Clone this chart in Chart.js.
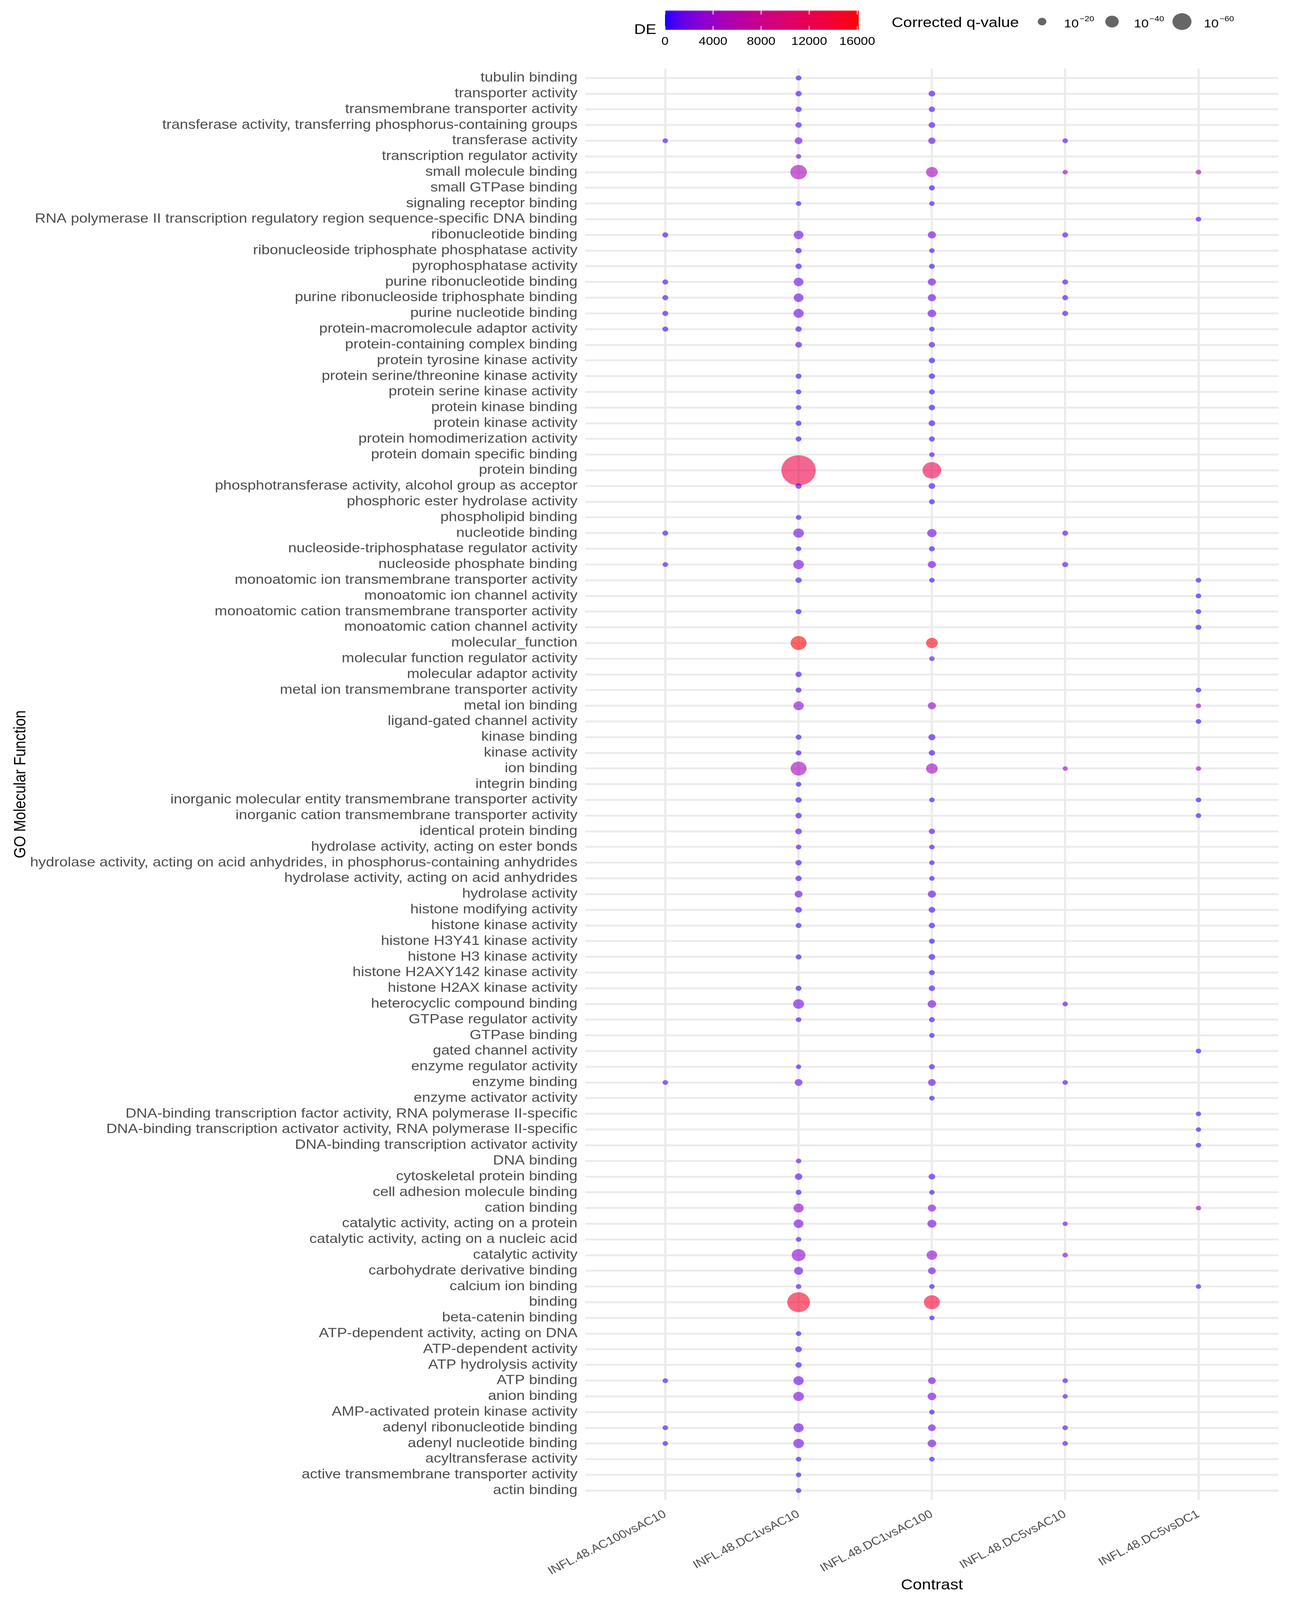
<!DOCTYPE html>
<html>
<head>
<meta charset="utf-8">
<script src="https://cdn.jsdelivr.net/npm/chart.js@4.4.1/dist/chart.umd.min.js"></script>
<style>
html,body{margin:0;padding:0;background:#ffffff;overflow:hidden;}
#wrap{position:absolute;left:0;top:0;width:3322px;height:4670px;transform-origin:0 0;}
canvas{display:block;}
</style>
</head>
<body>
<div id="wrap"><canvas id="c" width="3322" height="4670"></canvas></div>
<script>
const _ = null;

// GO terms, listed top (first) to bottom (last) as they appear on the y axis
const goTerms = [
  'tubulin binding','transporter activity','transmembrane transporter activity',
  'transferase activity, transferring phosphorus-containing groups','transferase activity',
  'transcription regulator activity','small molecule binding','small GTPase binding',
  'signaling receptor binding','RNA polymerase II transcription regulatory region sequence-specific DNA binding',
  'ribonucleotide binding','ribonucleoside triphosphate phosphatase activity','pyrophosphatase activity',
  'purine ribonucleotide binding','purine ribonucleoside triphosphate binding','purine nucleotide binding',
  'protein-macromolecule adaptor activity','protein-containing complex binding','protein tyrosine kinase activity',
  'protein serine/threonine kinase activity',
  'protein serine kinase activity','protein kinase binding','protein kinase activity',
  'protein homodimerization activity','protein domain specific binding','protein binding',
  'phosphotransferase activity, alcohol group as acceptor','phosphoric ester hydrolase activity',
  'phospholipid binding','nucleotide binding',
  'nucleoside-triphosphatase regulator activity','nucleoside phosphate binding',
  'monoatomic ion transmembrane transporter activity','monoatomic ion channel activity',
  'monoatomic cation transmembrane transporter activity','monoatomic cation channel activity',
  'molecular_function','molecular function regulator activity','molecular adaptor activity',
  'metal ion transmembrane transporter activity',
  'metal ion binding','ligand-gated channel activity','kinase binding','kinase activity','ion binding',
  'integrin binding','inorganic molecular entity transmembrane transporter activity',
  'inorganic cation transmembrane transporter activity','identical protein binding',
  'hydrolase activity, acting on ester bonds',
  'hydrolase activity, acting on acid anhydrides, in phosphorus-containing anhydrides',
  'hydrolase activity, acting on acid anhydrides','hydrolase activity','histone modifying activity',
  'histone kinase activity','histone H3Y41 kinase activity','histone H3 kinase activity',
  'histone H2AXY142 kinase activity','histone H2AX kinase activity','heterocyclic compound binding',
  'GTPase regulator activity','GTPase binding','gated channel activity','enzyme regulator activity',
  'enzyme binding','enzyme activator activity',
  'DNA-binding transcription factor activity, RNA polymerase II-specific',
  'DNA-binding transcription activator activity, RNA polymerase II-specific',
  'DNA-binding transcription activator activity','DNA binding',
  'cytoskeletal protein binding','cell adhesion molecule binding','cation binding',
  'catalytic activity, acting on a protein','catalytic activity, acting on a nucleic acid',
  'catalytic activity','carbohydrate derivative binding','calcium ion binding','binding',
  'beta-catenin binding',
  'ATP-dependent activity, acting on DNA','ATP-dependent activity','ATP hydrolysis activity',
  'ATP binding','anion binding','AMP-activated protein kinase activity',
  'adenyl ribonucleotide binding','adenyl nucleotide binding','acyltransferase activity',
  'active transmembrane transporter activity',
  'actin binding'
];

const contrasts = ['INFL.48.AC100vsAC10','INFL.48.DC1vsAC10','INFL.48.DC1vsAC100','INFL.48.DC5vsAC10','INFL.48.DC5vsDC1'];

// -log10(corrected q-value), aligned with goTerms (null = term not enriched)
const qAC100vsAC10 = [
  _,_,_,_,3.5,_,_,_,_,_,
  6,_,_,6,6,6,6,_,_,_,
  _,_,_,_,_,_,_,_,_,6,
  _,3.5,_,_,_,_,_,_,_,_,
  _,_,_,_,_,_,_,_,_,_,
  _,_,_,_,_,_,_,_,_,_,
  _,_,_,_,3.5,_,_,_,_,_,
  _,_,_,_,_,_,_,_,_,_,
  _,_,_,3.5,_,_,3.5,3.5,_,_,
  _
];
const qDC1vsAC10 = [
  5,8.4,8.4,8.4,16.4,1.5,51,_,3.5,_,
  25,8.4,8.4,25,25,27,8.4,10.5,_,6,
  3.5,3.5,6,6,_,108,8.4,_,3.5,28.5,
  3.5,28.5,8.4,_,6,_,49,_,8.4,6,
  27,_,6,6,49,3.5,8.4,8.4,10.5,3.5,
  8.4,8.4,16.4,10.5,6,_,6,_,6,30,
  3.5,_,_,1.5,16.4,_,_,_,_,3.5,
  14.5,6,27,25,3.5,41,21.8,3.5,72,_,
  3.5,10.5,8.4,27,28.5,_,27,28.5,3.5,3.5,
  3.5
];
const qDC1vsAC100 = [
  _,10.5,8.4,10.5,14.5,_,33,6,3.5,_,
  18.2,3.5,6,18.2,18.2,20,3.5,8.4,8.4,8.4,
  6,8.4,10.5,6,3.5,59,10.5,6,_,23.5,
  6,18.2,3.5,_,_,_,33,3.5,_,_,
  18.2,_,12.5,8.4,33,_,3.5,_,8.4,3.5,
  3.5,3.5,18.2,10.5,8.4,6,10.5,6,8.4,20,
  6,3.5,_,6,16.4,3.5,_,_,_,_,
  10.5,3.5,18.2,21.8,_,28.5,16.4,3.5,49,1.5,
  _,_,_,16.4,20,3.5,16.4,20,3.5,_,
  _
];
const qDC5vsAC10 = [
  _,_,_,_,3.5,_,1.5,_,_,_,
  6,_,_,6,6,6,_,_,_,_,
  _,_,_,_,_,_,_,_,_,6,
  _,6,_,_,_,_,_,_,_,_,
  _,_,_,_,0.8,_,_,_,_,_,
  _,_,_,_,_,_,_,_,_,3.5,
  _,_,_,_,3.5,_,_,_,_,_,
  _,_,_,0.8,_,3.5,_,_,_,_,
  _,_,_,3.5,1.5,_,3.5,3.5,_,_,
  _
];
const qDC5vsDC1 = [
  _,_,_,_,_,_,3.5,_,_,3.5,
  _,_,_,_,_,_,_,_,_,_,
  _,_,_,_,_,_,_,_,_,_,
  _,_,3.5,3.5,3.5,6,_,_,_,3.5,
  1.5,3.5,_,_,1.5,_,3.5,3.5,_,_,
  _,_,_,_,_,_,_,_,_,_,
  _,_,3.5,_,_,_,1.5,1.5,3.5,_,
  _,_,1.5,_,_,_,_,1.5,_,_,
  _,_,_,_,_,_,_,_,_,_,
  _
];

// DE (colour), aligned with goTerms
const deAC100vsAC10 = [
  _,_,_,_,700,_,_,_,_,_,
  750,_,_,750,750,750,600,_,_,_,
  _,_,_,_,_,_,_,_,_,750,
  _,750,_,_,_,_,_,_,_,_,
  _,_,_,_,_,_,_,_,_,_,
  _,_,_,_,_,_,_,_,_,_,
  _,_,_,_,750,_,_,_,_,_,
  _,_,_,_,_,_,_,_,_,_,
  _,_,_,700,_,_,700,700,_,_,
  _
];
const deDC1vsAC10 = [
  400,650,650,700,1500,1000,4800,_,700,_,
  1700,600,600,1700,1650,1750,650,900,_,500,
  500,500,550,550,_,12900,550,_,600,1800,
  550,1850,600,_,550,_,16100,_,700,500,
  3000,_,550,550,4600,300,550,550,1100,650,
  600,600,1400,600,500,_,500,_,500,2100,
  500,_,_,650,1400,_,_,_,_,1200,
  700,600,3200,1900,650,3300,1600,650,14500,_,
  450,600,550,1650,2000,_,1650,1700,500,450,
  450
];
const deDC1vsAC100 = [
  _,700,650,750,1300,_,4600,300,700,_,
  1500,500,500,1500,1450,1550,550,700,400,500,
  500,500,550,550,500,12500,600,500,_,1600,
  500,1650,500,_,_,_,15500,1400,_,_,
  2800,_,550,550,4400,_,500,_,1000,650,
  550,550,1300,550,500,450,500,450,500,1900,
  500,450,_,550,1300,550,_,_,_,_,
  650,550,3000,1700,_,3000,1500,550,14000,350,
  _,_,_,1450,1800,400,1450,1500,500,_,
  _
];
const deDC5vsAC10 = [
  _,_,_,_,900,_,4200,_,_,_,
  900,_,_,900,850,900,_,_,_,_,
  _,_,_,_,_,_,_,_,_,900,
  _,950,_,_,_,_,_,_,_,_,
  _,_,_,_,4000,_,_,_,_,_,
  _,_,_,_,_,_,_,_,_,1200,
  _,_,_,_,950,_,_,_,_,_,
  _,_,_,1500,_,2600,_,_,_,_,
  _,_,_,900,1100,_,900,950,_,_,
  _
];
const deDC5vsDC1 = [
  _,_,_,_,_,_,4400,_,_,800,
  _,_,_,_,_,_,_,_,_,_,
  _,_,_,_,_,_,_,_,_,_,
  _,_,500,450,450,450,_,_,_,450,
  3400,450,_,_,4200,_,450,450,_,_,
  _,_,_,_,_,_,_,_,_,_,
  _,_,450,_,_,_,600,550,500,_,
  _,_,3400,_,_,_,_,550,_,_,
  _,_,_,_,_,_,_,_,_,_,
  _
];

const qSeries = [qAC100vsAC10, qDC1vsAC10, qDC1vsAC100, qDC5vsAC10, qDC5vsDC1];
const deSeries = [deAC100vsAC10, deDC1vsAC10, deDC1vsAC100, deDC5vsAC10, deDC5vsDC1];

const deTicks = [0, 4000, 8000, 12000, 16000];
const deLimits = [0, 16100];
const qBreaks = [20, 40, 60];

// ---------- page fit (figure is laid out at 3322 x 4670) ----------
const FIG_W = 3322, FIG_H = 4670;
(function fit() {
  const sx = Math.min(1, (window.innerWidth || FIG_W) / FIG_W);
  const sy = Math.min(1, (window.innerHeight || FIG_H) / FIG_H);
  document.getElementById('wrap').style.transform = `scale(${sx}, ${sy})`;
})();

// ---------- aesthetics ----------
const FONT = "'Liberation Sans', Arial, Helvetica, sans-serif";
const ALPHA = 0.6;

function pointDiameter(v) { return 13 + 0.206 * Math.pow(Math.max(v, 0), 1.26); }

function srgbToLin(c) { c /= 255; return c <= 0.04045 ? c / 12.92 : Math.pow((c + 0.055) / 1.055, 2.4); }
function linToSrgb(c) { c = c <= 0.0031308 ? 12.92 * c : 1.055 * Math.pow(c, 1 / 2.4) - 0.055; return Math.round(Math.min(1, Math.max(0, c)) * 255); }
function rgb2lab(r, g, b) {
  const R = srgbToLin(r), G = srgbToLin(g), B = srgbToLin(b);
  const X = (0.4124564 * R + 0.3575761 * G + 0.1804375 * B) / 0.95047;
  const Y = (0.2126729 * R + 0.7151522 * G + 0.0721750 * B);
  const Z = (0.0193339 * R + 0.1191920 * G + 0.9503041 * B) / 1.08883;
  const f = t => t > 216 / 24389 ? Math.cbrt(t) : (24389 / 27 * t + 16) / 116;
  const fx = f(X), fy = f(Y), fz = f(Z);
  return [116 * fy - 16, 500 * (fx - fy), 200 * (fy - fz)];
}
function lab2rgb(L, a, b) {
  const fy = (L + 16) / 116, fx = fy + a / 500, fz = fy - b / 200;
  const fi = t => t > 6 / 29 ? t * t * t : 3 * (6 / 29) * (6 / 29) * (t - 4 / 29);
  const X = 0.95047 * fi(fx), Y = fi(fy), Z = 1.08883 * fi(fz);
  const r = 3.2404542 * X - 1.5371385 * Y - 0.4985314 * Z;
  const g = -0.9692660 * X + 1.8760108 * Y + 0.0415560 * Z;
  const bb = 0.0556434 * X - 0.2040259 * Y + 1.0572252 * Z;
  return [linToSrgb(r), linToSrgb(g), linToSrgb(bb)];
}
const LAB_LOW = rgb2lab(0, 0, 255), LAB_HIGH = rgb2lab(255, 0, 0);
function deRGB(de) {
  const t = Math.min(1, Math.max(0, (de - deLimits[0]) / (deLimits[1] - deLimits[0])));
  return lab2rgb(LAB_LOW[0] + (LAB_HIGH[0] - LAB_LOW[0]) * t,
                 LAB_LOW[1] + (LAB_HIGH[1] - LAB_LOW[1]) * t,
                 LAB_LOW[2] + (LAB_HIGH[2] - LAB_LOW[2]) * t);
}
function deColor(de, alpha) { const c = deRGB(de); return `rgba(${c[0]},${c[1]},${c[2]},${alpha})`; }

// ---------- datasets ----------
const nRows = goTerms.length;
const datasets = contrasts.map((name, ci) => ({
  label: name,
  data: goTerms.map((term, r) => qSeries[ci][r] == null ? null :
        { x: ci, y: nRows - 1 - r, q: qSeries[ci][r], de: deSeries[ci][r] }).filter(Boolean),
  pointRadius: ctx => ctx.raw ? pointDiameter(ctx.raw.q) / 2 : 0,
  pointHoverRadius: ctx => ctx.raw ? pointDiameter(ctx.raw.q) / 2 : 0,
  pointBackgroundColor: ctx => ctx.raw ? deColor(ctx.raw.de, ALPHA) : 'transparent',
  pointBorderWidth: 0,
  pointHoverBorderWidth: 0
}));

// ---------- legends (drawn on the canvas) ----------
const legendPlugin = {
  id: 'ggLegends',
  afterDraw(chart) {
    const ctx = chart.ctx;
    ctx.save();
    // colour bar
    const bx0 = 1702, bx1 = 2197, by0 = 31, by1 = 87;
    const steps = 300;
    for (let i = 0; i < steps; i++) {
      const v = deLimits[0] + (deLimits[1] - deLimits[0]) * (i + 0.5) / steps;
      ctx.fillStyle = deColor(v, 1);
      const x = bx0 + (bx1 - bx0) * i / steps;
      ctx.fillRect(x, by0, (bx1 - bx0) / steps + 0.8, by1 - by0);
    }
    const pos = v => bx0 + (bx1 - bx0) * (v - deLimits[0]) / (deLimits[1] - deLimits[0]);
    const tl = (by1 - by0) / 5;
    ctx.strokeStyle = '#ffffff';
    ctx.lineWidth = 2;
    deTicks.forEach(v => {
      const x = pos(v);
      ctx.beginPath(); ctx.moveTo(x, by0); ctx.lineTo(x, by0 + tl); ctx.stroke();
      ctx.beginPath(); ctx.moveTo(x, by1 - tl); ctx.lineTo(x, by1); ctx.stroke();
    });
    ctx.fillStyle = '#000000';
    ctx.font = `33px ${FONT}`;
    ctx.textAlign = 'center';
    ctx.textBaseline = 'alphabetic';
    deTicks.forEach(v => ctx.fillText(String(v), pos(v), 131));
    ctx.font = `41px ${FONT}`;
    ctx.textAlign = 'left';
    ctx.fillText('DE', 1623, 99);

    // size legend
    ctx.fillText('Corrected q-value', 2282, 79);
    const keyX = [2667, 2846, 3025];
    qBreaks.forEach((b, i) => {
      const r = pointDiameter(b) / 2;
      ctx.fillStyle = 'rgba(0,0,0,0.6)';
      ctx.beginPath(); ctx.arc(keyX[i], 63, r, 0, Math.PI * 2); ctx.fill();
      ctx.fillStyle = '#000000';
      ctx.font = `34px ${FONT}`;
      const lx = keyX[i] + 56;
      ctx.fillText('10', lx, 80);
      const w = ctx.measureText('10').width;
      ctx.font = `22px ${FONT}`;
      ctx.fillText('\u2212' + b, lx + w + 2, 62);
    });
    ctx.restore();
  }
};

Chart.defaults.font.family = FONT;

new Chart(document.getElementById('c'), {
  type: 'scatter',
  data: { datasets },
  options: {
    responsive: false,
    animation: false,
    devicePixelRatio: 1,
    layout: { padding: { top: 200, right: 50, left: 0, bottom: 0 } },
    plugins: { legend: { display: false }, tooltip: { enabled: false } },
    scales: {
      x: {
        type: 'linear', min: -0.6, max: 4.6,
        afterBuildTicks: s => { s.ticks = contrasts.map((c, i) => ({ value: i })); },
        afterFit: s => { s.height = 292; },
        grid: { color: '#EBEBEB', lineWidth: 5.5, drawTicks: false },
        border: { display: false },
        ticks: {
          autoSkip: false, minRotation: 30, maxRotation: 30, padding: 22,
          color: '#4D4D4D', font: { size: 33 },
          callback: v => contrasts[v] ?? ''
        },
        title: { display: true, text: 'Contrast', color: '#000000', font: { size: 42 }, padding: { top: 0, bottom: 17 } }
      },
      y: {
        type: 'linear', min: -0.6, max: nRows - 0.4,
        afterBuildTicks: s => { s.ticks = goTerms.map((t, i) => ({ value: i })); },
        afterFit: s => { s.width = 1498; },
        grid: { color: '#EBEBEB', lineWidth: 5.5, drawTicks: false },
        border: { display: false },
        ticks: {
          autoSkip: false, padding: 20, color: '#4D4D4D', font: { size: 38.5 },
          callback: v => goTerms[nRows - 1 - v] ?? ''
        },
        title: { display: true, text: 'GO Molecular Function', color: '#000000', font: { size: 42 }, padding: { top: 28, bottom: 0 } }
      }
    }
  },
  plugins: [legendPlugin]
});
</script>
</body>
</html>
